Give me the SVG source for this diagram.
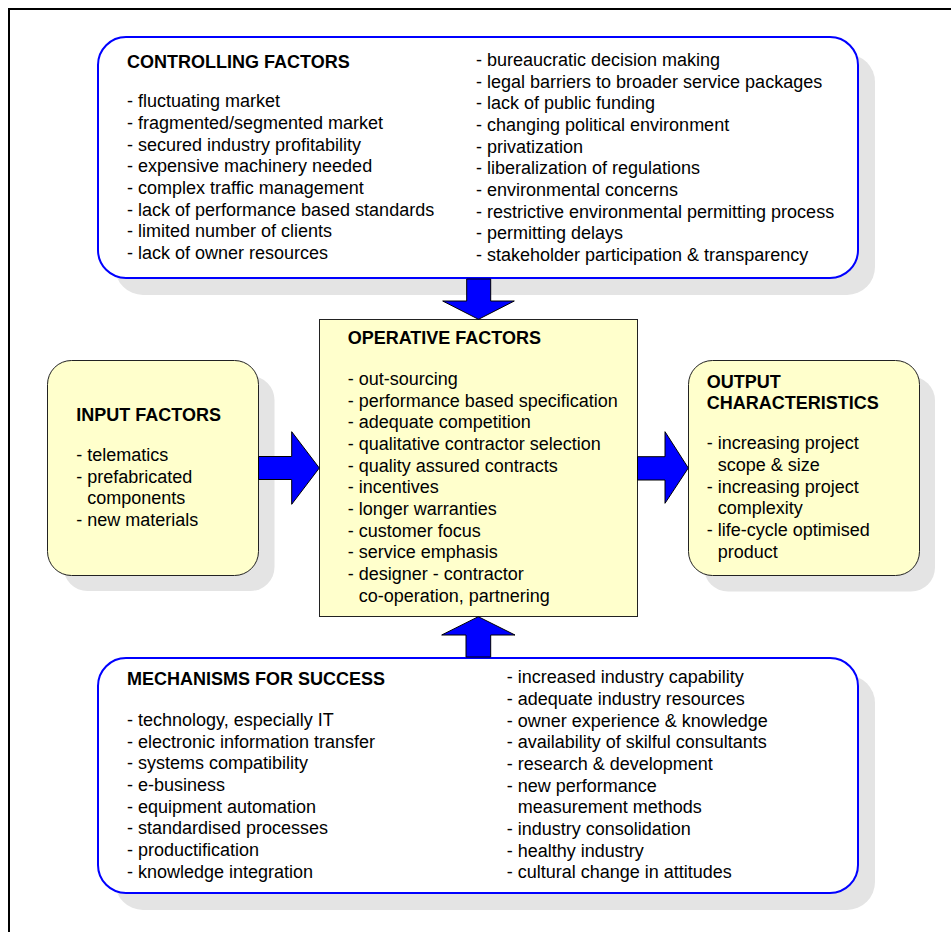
<svg xmlns="http://www.w3.org/2000/svg" width="951" height="932" viewBox="0 0 951 932">
<style>
text{font-family:"Liberation Sans",Arial,sans-serif;font-size:18px;fill:#000}
.h{font-weight:bold}
.shadow{fill:#e4e4e4}
.blue{fill:#fff;stroke:#0000ff;stroke-width:2}
.yel{fill:#ffffcc;stroke:#222;stroke-width:1}
.arrow{fill:#0000ff;stroke:#000;stroke-width:1;stroke-linejoin:miter}
</style>
<rect x="0" y="0" width="951" height="932" fill="#fff"/>
<path d="M9,932 V9 H951" fill="none" stroke="#000" stroke-width="2"/>

<g id="controlling">
<rect class="shadow" x="115" y="54" width="760" height="241" rx="28"/>
<rect class="blue" x="98" y="37" width="760" height="241" rx="28"/>
<text class="h" x="127" y="68">CONTROLLING FACTORS</text>
<text x="127" y="107.3">- fluctuating market</text>
<text x="127" y="129">- fragmented/segmented market</text>
<text x="127" y="150.7">- secured industry profitability</text>
<text x="127" y="172.3">- expensive machinery needed</text>
<text x="127" y="194">- complex traffic management</text>
<text x="127" y="215.7">- lack of performance based standards</text>
<text x="127" y="237.3">- limited number of clients</text>
<text x="127" y="259">- lack of owner resources</text>
<text x="476" y="66">- bureaucratic decision making</text>
<text x="476" y="87.7">- legal barriers to broader service packages</text>
<text x="476" y="109.3">- lack of public funding</text>
<text x="476" y="131">- changing political environment</text>
<text x="476" y="152.7">- privatization</text>
<text x="476" y="174.3">- liberalization of regulations</text>
<text x="476" y="196">- environmental concerns</text>
<text x="476" y="217.7">- restrictive environmental permitting process</text>
<text x="476" y="239.3">- permitting delays</text>
<text x="476" y="261">- stakeholder participation &amp; transparency</text>
</g>

<g id="input">
<rect class="shadow" x="63.5" y="376" width="211" height="215" rx="24"/>
<rect class="yel" x="47.5" y="360.5" width="211" height="215" rx="24"/>
<text class="h" x="76.3" y="421">INPUT FACTORS</text>
<text x="76.3" y="461">- telematics</text>
<text x="76.3" y="482.7">- prefabricated</text>
<text x="87.3" y="504.3">components</text>
<text x="76.3" y="526">- new materials</text>
</g>

<g id="output">
<rect class="shadow" x="704" y="376.5" width="231" height="215" rx="24"/>
<rect class="yel" x="688.5" y="360.5" width="231" height="215" rx="24"/>
<text class="h" x="706.7" y="388">OUTPUT</text>
<text class="h" x="706.7" y="409">CHARACTERISTICS</text>
<text x="706.7" y="449.3">- increasing project</text>
<text x="717.7" y="471">scope &amp; size</text>
<text x="706.7" y="492.7">- increasing project</text>
<text x="717.7" y="514.3">complexity</text>
<text x="706.7" y="536">- life-cycle optimised</text>
<text x="717.7" y="557.7">product</text>
</g>

<g id="operative">
<rect class="yel" x="319.5" y="319.5" width="318" height="297"/>
<text class="h" x="347.7" y="344">OPERATIVE FACTORS</text>
<text x="347.7" y="385">- out-sourcing</text>
<text x="347.7" y="406.7">- performance based specification</text>
<text x="347.7" y="428.3">- adequate competition</text>
<text x="347.7" y="450">- qualitative contractor selection</text>
<text x="347.7" y="471.7">- quality assured contracts</text>
<text x="347.7" y="493.3">- incentives</text>
<text x="347.7" y="515">- longer warranties</text>
<text x="347.7" y="536.7">- customer focus</text>
<text x="347.7" y="558.3">- service emphasis</text>
<text x="347.7" y="580">- designer - contractor</text>
<text x="358.7" y="601.7">co-operation, partnering</text>
</g>

<g id="mechanisms">
<rect class="shadow" x="115" y="675" width="760" height="235" rx="28"/>
<rect class="blue" x="98" y="658" width="760" height="235" rx="28"/>
<text class="h" x="127" y="685">MECHANISMS FOR SUCCESS</text>
<text x="127" y="726">- technology, especially IT</text>
<text x="127" y="747.7">- electronic information transfer</text>
<text x="127" y="769.3">- systems compatibility</text>
<text x="127" y="791">- e-business</text>
<text x="127" y="812.7">- equipment automation</text>
<text x="127" y="834.3">- standardised processes</text>
<text x="127" y="856">- productification</text>
<text x="127" y="877.7">- knowledge integration</text>
<text x="506.7" y="683.3">- increased industry capability</text>
<text x="506.7" y="705">- adequate industry resources</text>
<text x="506.7" y="726.7">- owner experience &amp; knowledge</text>
<text x="506.7" y="748.3">- availability of skilful consultants</text>
<text x="506.7" y="770">- research &amp; development</text>
<text x="506.7" y="791.7">- new performance</text>
<text x="517.7" y="813.3">measurement methods</text>
<text x="506.7" y="835">- industry consolidation</text>
<text x="506.7" y="856.7">- healthy industry</text>
<text x="506.7" y="878.3">- cultural change in attitudes</text>
</g>

<g id="connectors">
<polygon class="arrow" points="466.7,279 490.7,279 490.7,301 514.3,301 478.5,319.3 442.7,301 466.7,301"/>
<polygon class="arrow" points="258.5,456.5 291.7,456.5 291.7,431.7 319.3,468 291.7,504.3 291.7,479.5 258.5,479.5"/>
<polygon class="arrow" points="637.5,456.7 665,456.7 665,431.7 688.3,468 665,503.3 665,480 637.5,480"/>
<polygon class="arrow" points="466,657 490.7,657 490.7,635 515,635 478.3,616.7 441.7,635 466,635"/>
</g>
</svg>
